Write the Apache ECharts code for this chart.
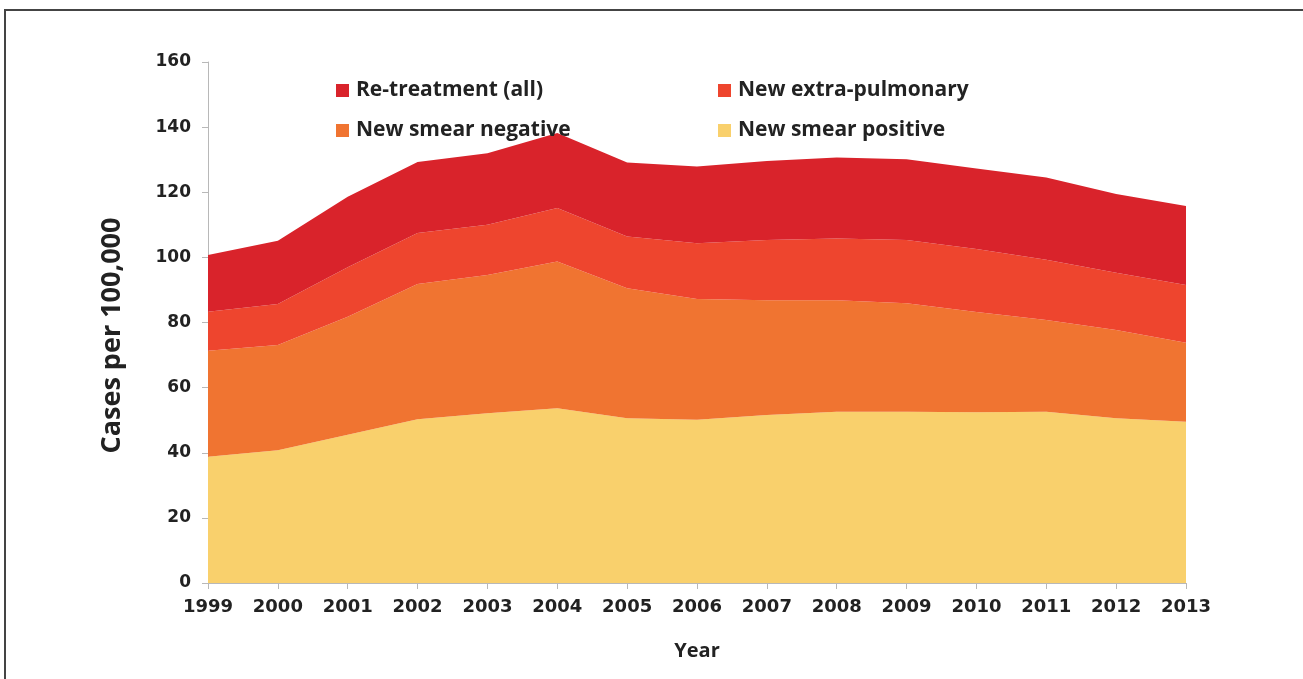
<!DOCTYPE html>
<html>
<head>
<meta charset="utf-8">
<script src="https://cdn.jsdelivr.net/npm/echarts@6/dist/echarts.min.js"></script>
<style>
html,body{margin:0;padding:0;background:#fff;}
#chart{width:1303px;height:679px;}
</style>
</head>
<body>
<div id="chart"></div>
<script>
const years = ['1999','2000','2001','2002','2003','2004','2005','2006','2007','2008','2009','2010','2011','2012','2013'];
const smearPositive = [38.8, 40.8, 45.5, 50.3, 52.1, 53.7, 50.6, 50.1, 51.6, 52.6, 52.6, 52.4, 52.6, 50.6, 49.5];
const smearNegative = [32.5, 32.3, 36.3, 41.5, 42.5, 45.0, 39.9, 37.1, 35.2, 34.2, 33.3, 30.8, 28.2, 27.1, 24.3];
const extraPulmonary = [12.0, 12.6, 15.2, 15.7, 15.4, 16.5, 15.9, 17.1, 18.5, 19.0, 19.4, 19.4, 18.5, 17.6, 17.7];
const retreatment = [17.4, 19.4, 21.6, 21.8, 22.0, 23.0, 22.7, 23.6, 24.3, 24.9, 24.8, 24.7, 25.2, 24.2, 24.3];
const yTicks = [0, 20, 40, 60, 80, 100, 120, 140, 160];

const names = {
  ret: 'Re-treatment (all)',
  extra: 'New extra-pulmonary',
  neg: 'New smear negative',
  pos: 'New smear positive'
};
const colors = {
  ret: '#D9232B',
  extra: '#EE452E',
  neg: '#F07431',
  pos: '#F9D06C'
};

const chart = echarts.init(document.getElementById('chart'));

function legendAt(name, left, top) {
  return {
    data: [name],
    left: left,
    top: top,
    padding: 0,
    icon: 'rect',
    itemWidth: 13,
    itemHeight: 13,
    itemGap: 0,
    selectedMode: false,
    textStyle: {
      fontFamily: 'Open Sans',
      fontSize: 21,
      fontWeight: 'bold',
      color: '#222',
      padding: [0, 0, 0, 2]
    }
  };
}

function areaSeries(key, data) {
  return {
    name: names[key],
    type: 'line',
    stack: 'total',
    data: data,
    symbol: 'none',
    lineStyle: { width: 0 },
    areaStyle: { color: colors[key], opacity: 1 },
    itemStyle: { color: colors[key] },
    emphasis: { disabled: true },
    silent: true
  };
}

chart.setOption({
  animation: false,
  backgroundColor: '#fff',
  graphic: [{
    type: 'rect',
    shape: { x: 5, y: 10, width: 1320, height: 700 },
    style: { fill: 'none', stroke: '#444', lineWidth: 2 },
    silent: true
  }],
  legend: [
    legendAt(names.ret, 336, 80),
    legendAt(names.extra, 718, 80),
    legendAt(names.neg, 336, 120),
    legendAt(names.pos, 718, 120)
  ],
  grid: { left: 208, right: 117, top: 62, bottom: 96, containLabel: false },
  xAxis: {
    type: 'category',
    data: years,
    boundaryGap: false,
    name: 'Year',
    nameLocation: 'middle',
    nameGap: 58,
    nameTextStyle: { fontFamily: 'Open Sans', fontSize: 20, fontWeight: 'bold', color: '#222' },
    axisLine: { lineStyle: { color: '#b8b8b8', width: 1 } },
    axisTick: { show: true, alignWithLabel: true, length: 6, lineStyle: { color: '#b8b8b8' } },
    axisLabel: {
      fontFamily: 'DejaVu Sans',
      fontWeight: 'bold',
      fontSize: 18,
      color: '#222',
      margin: 15
    },
    splitLine: { show: false }
  },
  yAxis: {
    type: 'value',
    min: yTicks[0],
    max: yTicks[yTicks.length - 1],
    interval: 20,
    name: 'Cases per 100,000',
    nameLocation: 'middle',
    nameGap: 82,
    nameRotate: 90,
    nameTextStyle: { fontFamily: 'Open Sans', fontSize: 27, fontWeight: 'bold', color: '#222', padding: [0, 26, 0, 0] },
    axisLine: { show: true, lineStyle: { color: '#b8b8b8', width: 1 } },
    axisTick: { show: true, length: 6, lineStyle: { color: '#b8b8b8' } },
    axisLabel: {
      fontFamily: 'DejaVu Sans',
      fontWeight: 'bold',
      fontSize: 17,
      color: '#222',
      margin: 17
    },
    splitLine: { show: false }
  },
  series: [
    areaSeries('pos', smearPositive),
    areaSeries('neg', smearNegative),
    areaSeries('extra', extraPulmonary),
    areaSeries('ret', retreatment)
  ]
});
</script>
</body>
</html>
